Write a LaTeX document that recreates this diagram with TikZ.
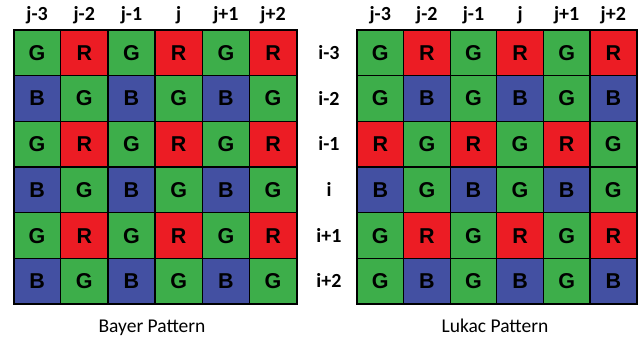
\documentclass[tikz,border=0pt]{standalone}
\usepackage{fontspec}
\setmainfont{Carlito}
\newfontfamily\cellfont{Liberation Sans}
\definecolor{colG}{HTML}{3DAE4A}
\definecolor{colR}{HTML}{EC1C24}
\definecolor{colB}{HTML}{4350A2}
\tikzset{
  pix/.style={draw=black, line width=1.3pt, minimum width=#1, minimum height=45.7pt, inner sep=0pt, outer sep=0pt, font=\cellfont\bfseries\fontsize{21.5}{21.5}\selectfont, anchor=north west},
  idx/.style={font=\bfseries\fontsize{20}{20}\selectfont, inner sep=0pt, anchor=base},
  captext/.style={font=\fontsize{19.5}{19.5}\selectfont, inner sep=0pt, anchor=base}
}
\begin{document}
\begin{tikzpicture}[x=1pt,y=1pt]
\useasboundingbox (0,0) rectangle (641,-339);
% Bayer
\foreach \row [count=\r from 0] in {{G,R,G,R,G,R},{B,G,B,G,B,G},{G,R,G,R,G,R},{B,G,B,G,B,G},{G,R,G,R,G,R},{B,G,B,G,B,G}} {
  \foreach \c [count=\k from 0] in \row {
    \node[pix=47.2pt, fill=col\c] (L-\r-\k) at ({13.5+47.2*\k},{-30-45.7*\r}) {\c};
  }
}
% Lukac
\foreach \row [count=\r from 0] in {{G,R,G,R,G,R},{G,B,G,B,G,B},{R,G,R,G,R,G},{B,G,B,G,B,G},{G,R,G,R,G,R},{G,B,G,B,G,B}} {
  \foreach \c [count=\k from 0] in \row {
    \node[pix=46.6pt, fill=col\c] (R-\r-\k) at ({357+46.6*\k},{-30-45.7*\r}) {\c};
  }
}
\draw[line width=2pt] (L-0-0.north west) rectangle (L-5-5.south east);
\draw[line width=2pt] (R-0-0.north west) rectangle (R-5-5.south east);
% column labels
\foreach \t [count=\k from 0] in {j-3,j-2,j-1,j,j+1,j+2} {
  \node[idx] (LC-\k) at ({13.5+47.2*\k+23.6},-20.5) {\t};
  \node[idx] (RC-\k) at ({357+46.6*\k+23.3},-20.5) {\t};
}
% row labels
\foreach \t [count=\r from 0] in {i-3,i-2,i-1,i,i+1,i+2} {
  \node[idx] (RL-\r) at (329,{-30-45.7*\r-22.85-6.5}) {\t};
}
\node[captext] (bayer) at (152,-333) {Bayer Pattern};
\node[captext] (lukac) at (495,-333) {Lukac Pattern};
\end{tikzpicture}
\end{document}
